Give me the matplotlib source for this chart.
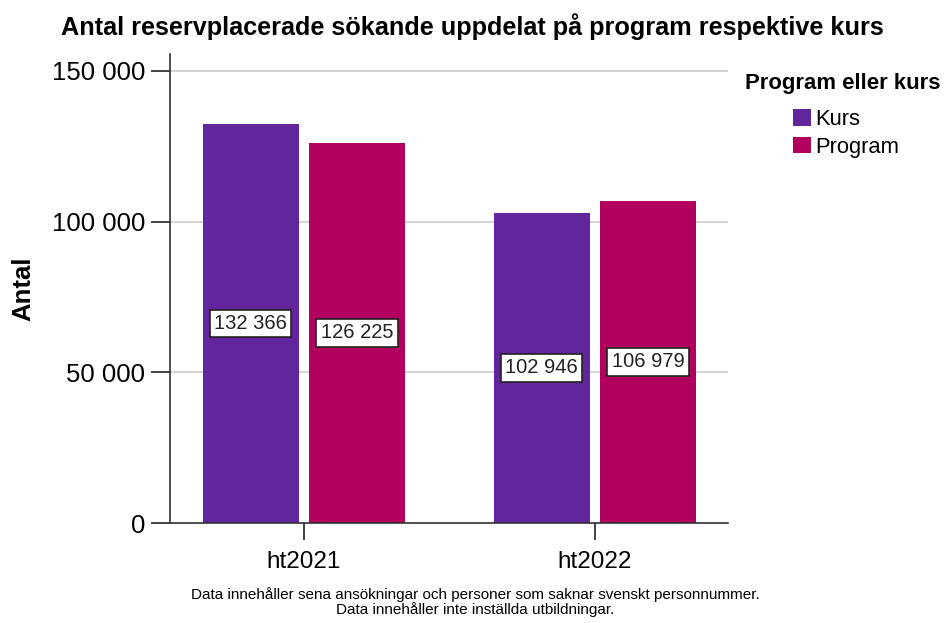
import matplotlib.pyplot as plt
import numpy as np

# data
terms = ["ht2021", "ht2022"]
kurs = [132366, 102946]
program = [126225, 106979]
series_names = ["Kurs", "Program"]
colors = ["#62259d", "#b1005d"]

plt.rcParams['font.family'] = ['Liberation Sans', 'DejaVu Sans']

fig = plt.figure(figsize=(9.44, 6.23), dpi=100)
ax = fig.add_axes([0.180, 0.1605, 0.591, 0.7528])

x = np.arange(len(terms))
w = 0.33
gap = 0.036
off = (w + gap) / 2

def fmt(v):
    return f"{v:,}".replace(",", " ")

for vals, name, col, sign in [(kurs, series_names[0], colors[0], -1),
                              (program, series_names[1], colors[1], 1)]:
    bars = ax.bar(x + sign * off, vals, w, color=col, label=name, zorder=2)
    for b, v in zip(bars, vals):
        ax.text(b.get_x() + b.get_width() / 2, v / 2, fmt(v), ha='center', va='center',
                fontsize=14.5, color='#222222', zorder=3,
                bbox=dict(boxstyle='square,pad=0.22', fc='white', ec='#222222', lw=1.2))

ax.set_xlim(-0.46, 1.457)
ax.set_ylim(0, 155600)
ax.set_yticks([0, 50000, 100000, 150000])
ax.set_yticklabels([fmt(v) for v in [0, 50000, 100000, 150000]], fontsize=18.5)
ax.set_xticks(x)
ax.set_xticklabels(terms, fontsize=17.5)
ax.tick_params(axis='y', length=14, width=1.3, color='#333333', pad=4)
ax.tick_params(axis='x', length=12, width=1.3, color='#333333', pad=8)
ax.yaxis.grid(True, color='#cccccc', lw=1.2, zorder=0)
ax.set_axisbelow(True)
for s in ['top', 'right']:
    ax.spines[s].set_visible(False)
for s in ['left', 'bottom']:
    ax.spines[s].set_color('#333333')
    ax.spines[s].set_linewidth(1.2)

ax.set_ylabel("Antal", fontsize=18.5, fontweight='bold', labelpad=12)
fig.text(0.5, 0.958, "Antal reservplacerade sökande uppdelat på program respektive kurs",
         ha='center', va='center', fontsize=18.2, fontweight='bold')

# legend title placed separately to get the wider gap above the entries
fig.text(745 / 944, 1 - 84 / 623, "Program eller kurs", ha='left', va='center',
         fontsize=15.9, fontweight='bold')
leg = fig.legend(loc='upper left', bbox_to_anchor=(793 / 944, 1 - 109 / 623), frameon=False,
                 fontsize=15.8, borderpad=0, borderaxespad=0,
                 handlelength=0.8, handleheight=0.8, handletextpad=0.2, labelspacing=0.3)

fig.text(0.503, 0.034, "Data innehåller sena ansökningar och personer som saknar svenskt personnummer.\n"
         "Data innehåller inte inställda utbildningar.", ha='center', va='center',
         fontsize=11, linespacing=0.95)

fig.savefig("out.png", dpi=100)
